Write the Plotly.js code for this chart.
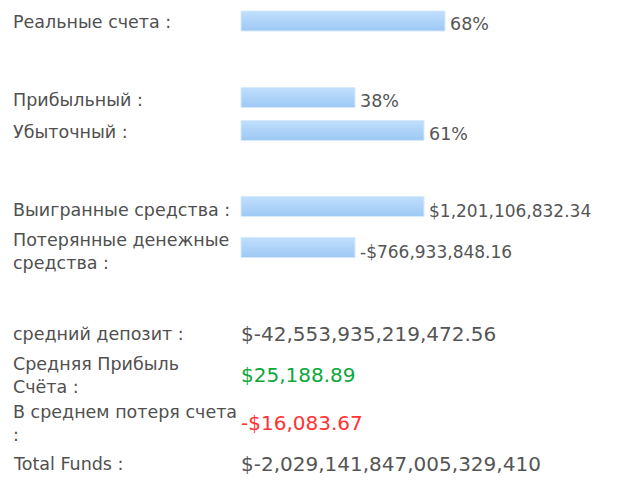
<!DOCTYPE html>
<html>
<head>
<meta charset="utf-8">
<script src="https://cdn.plot.ly/plotly-3.0.1.min.js"></script>
<style>html,body{margin:0;padding:0;background:#fff;}#chart{width:635px;height:493px;}</style>
</head>
<body>
<div id="chart"></div>
<script>
// ---- data ----
var pctLabels = ['Реальные счета :', 'Прибыльный :', 'Убыточный :'];
var pctValues = [68, 38, 61];
var moneyLabels = ['Выигранные средства :', 'Потерянные денежные<br>средства :'];
var moneyValues = [1201106832.34, -766933848.16];
var statLabels = ['средний депозит :', 'Средняя Прибыль<br>Счёта :', 'В среднем потеря счета<br>:', 'Total Funds :'];
var statTexts = ['$-42,553,935,219,472.56', '$25,188.89', '-$16,083.67', '$-2,029,141,847,005,329,410'];

// ---- layout constants (pixels) ----
var W = 635, H = 493, X0 = 241, PX_PER_PCT = 3;
var barRowsPct = [21, 97.5, 130.5];
var barRowsMoney = [206.5, 247.5];
var labelRowsPct = [22, 100, 132];
var labelRowsMoney = [210, 251];
var statRows = [334, 375, 423, 463.5];
var statColors = ['#555555', '#0aa83a', '#ff3333', '#555555'];
var BAR_H = 20;
var FONT = 'DejaVu Sans, Verdana, sans-serif';

function fmtMoney(v) {
  var s = Math.abs(v).toFixed(2).split('.');
  s[0] = s[0].replace(/\B(?=(\d{3})+(?!\d))/g, ',');
  return (v < 0 ? '-$' : '$') + s[0] + '.' + s[1];
}

var moneyTotal = moneyValues.reduce(function (a, b) { return a + Math.abs(b); }, 0);
var moneyPct = moneyValues.map(function (v) { return Math.floor(Math.abs(v) / moneyTotal * 100); });

var barY = barRowsPct.concat(barRowsMoney);
var barX = pctValues.concat(moneyPct);
var barText = pctValues.map(function (v) { return v + '%'; }).concat(moneyValues.map(fmtMoney));

// gradient slices (each slice runs to the bar bottom, later ones cover earlier)
var traces = [];
var N = 10, gradTop = [190, 222, 252], gradBot = [159, 201, 245];
for (var i = 0; i < N; i++) {
  var t = i / (N - 1);
  var c = 'rgb(' + [0, 1, 2].map(function (k) { return Math.round(gradTop[k] + (gradBot[k] - gradTop[k]) * t); }).join(',') + ')';
  traces.push({
    type: 'bar', orientation: 'h', x: barX, y: barY,
    width: BAR_H - i * BAR_H / N, offset: -BAR_H / 2 + i * BAR_H / N,
    marker: {color: c, line: {width: 0}}, hoverinfo: 'skip', showlegend: false
  });
}
traces.push({
  type: 'bar', orientation: 'h', x: barX, y: barY, width: BAR_H, offset: -BAR_H / 2,
  marker: {color: 'rgba(0,0,0,0)', line: {width: 1, color: '#d6eafd'}}, hoverinfo: 'skip', showlegend: false
});

var labFont = {family: FONT, size: 17.5, color: '#505050'};
var ann = [];
function label(txt, y) {
  ann.push({xref: 'paper', yref: 'y', x: 11 / W, y: y, text: txt, showarrow: false,
    xanchor: 'left', yanchor: 'middle', align: 'left', font: labFont});
}
pctLabels.forEach(function (l, i) { label(l, labelRowsPct[i]); });
moneyLabels.forEach(function (l, i) { label(l, labelRowsMoney[i]); });
statLabels.forEach(function (l, i) { label(l, statRows[i]); });

barX.forEach(function (v, i) {
  ann.push({xref: 'x', yref: 'y', x: v, y: barY[i] + (i < 3 ? 3 : 4), text: barText[i], showarrow: false,
    xanchor: 'left', yanchor: 'middle', xshift: 3,
    font: {family: FONT, size: i < 3 ? 17.5 : 17, color: '#555555'}});
});
statTexts.forEach(function (s, i) {
  ann.push({xref: 'x', yref: 'y', x: 0, y: statRows[i], text: s, showarrow: false,
    xanchor: 'left', yanchor: 'middle', xshift: -2,
    font: {family: FONT, size: 20, color: statColors[i]}});
});

var layout = {
  width: W, height: H, margin: {l: 0, r: 0, t: 0, b: 0},
  paper_bgcolor: '#fff', plot_bgcolor: '#fff', barmode: 'overlay', showlegend: false,
  xaxis: {range: [-X0 / PX_PER_PCT, (W - X0) / PX_PER_PCT], visible: false, fixedrange: true},
  yaxis: {range: [H, 0], visible: false, fixedrange: true},
  annotations: ann
};
Plotly.newPlot('chart', traces, layout, {displayModeBar: false, staticPlot: true});
</script>
</body>
</html>
